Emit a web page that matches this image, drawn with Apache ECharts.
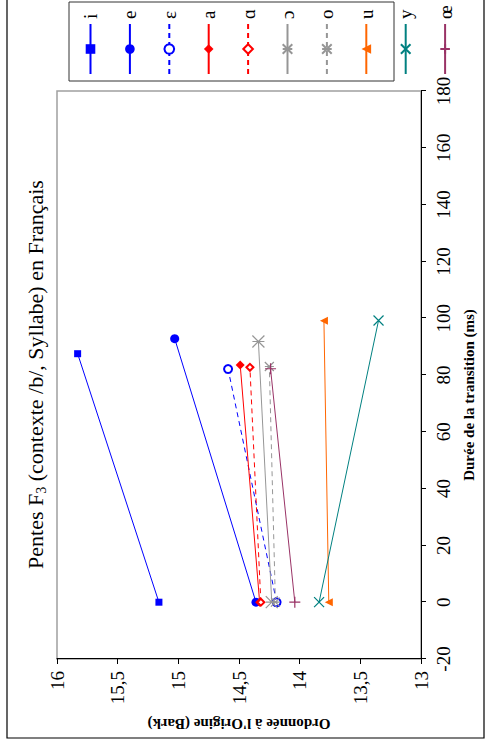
<!DOCTYPE html>
<html><head><meta charset="utf-8">
<script src="https://cdn.jsdelivr.net/npm/echarts@6/dist/echarts.min.js"></script>
<style>
html,body{margin:0;padding:0;width:486px;height:749px;overflow:hidden;background:#fff;}
#chart{position:absolute;left:0;top:0;width:749px;height:486px;transform-origin:0 0;transform:translateY(749px) rotate(-90deg);}
</style></head><body><div id="chart"></div>
<script>
// ---- data ----
const vowels = ['i', 'e', 'ɛ', 'a', 'ɑ', 'ɔ', 'o', 'u', 'y', 'œ'];
const dureeDebut = [0, 0, 0, 0, 0, 0, 0, 0, 0, 0];
const dureeFin = [87.5, 92.8, 82.1, 83.5, 82.7, 91.8, 83.0, 99.1, 99.2, 82.2];
const ordonneeDebut = [15.16, 14.36, 14.19, 14.33, 14.32, 14.23, 14.20, 13.76, 13.84, 14.04];
const ordonneeFin = [15.83, 15.03, 14.59, 14.49, 14.41, 14.34, 14.25, 13.80, 13.35, 14.24];
const dureeTicks = [-20, 0, 20, 40, 60, 80, 100, 120, 140, 160, 180];
const ordonneeTicks = [13, 13.5, 14, 14.5, 15, 15.5, 16];

// ---- styles ----
const FONT = "'Liberation Serif', 'Times New Roman', serif";
const STAR = 'path://M0,0 L10,10 M10,0 L0,10 M5,0 L5,10';
const CROSS = 'path://M0,0 L10,10 M10,0 L0,10';
const PLUS = 'path://M5,0 L5,10 M0,5 L10,5';
const styles = [
  {color: '#0000ff', symbol: 'rect', size: 7, dash: false, stroke: false},
  {color: '#0000ff', symbol: 'circle', size: 9, dash: false, stroke: false},
  {color: '#0000ff', symbol: 'emptyCircle', size: 8, dash: true, stroke: true},
  {color: '#ff0000', symbol: 'diamond', size: 9, dash: false, stroke: false},
  {color: '#ff0000', symbol: 'emptyDiamond', size: 7, dash: true, stroke: true},
  {color: '#969696', symbol: STAR, size: 12, dash: false, stroke: true},
  {color: '#969696', symbol: STAR, size: 9, dash: true, stroke: true},
  {color: '#ff6600', symbol: 'triangle', size: 8, dash: false, stroke: false},
  {color: '#008080', symbol: CROSS, size: 10, dash: false, stroke: true},
  {color: '#993366', symbol: PLUS, size: 11, dash: false, stroke: true}
];

const chart = echarts.init(document.getElementById('chart'), null, {renderer: 'svg', width: 749, height: 486});

const series = vowels.map((v, k) => {
  const st = styles[k];
  return {
    name: v,
    type: 'line',
    data: [[dureeDebut[k], ordonneeDebut[k]], [dureeFin[k], ordonneeFin[k]]],
    symbol: st.symbol,
    symbolSize: st.size,
    showAllSymbol: true,
    lineStyle: {color: st.color, width: 1, type: st.dash ? [5, 4] : 'solid'},
    itemStyle: {color: st.color, borderColor: st.color, borderWidth: st.stroke ? 1.2 : 0},
    emphasis: {disabled: true},
    z: 3
  };
});

chart.setOption({
  animation: false,
  backgroundColor: '#fff',
  title: {
    text: '{a|Pentes F}{s|3}{a| (contexte /b/, Syllabe) en Français}',
    left: 'center',
    top: 22,
    padding: 0,
    textStyle: {
      fontWeight: 'normal',
      rich: {
        a: {fontFamily: FONT, fontSize: 22, fontWeight: 'normal', color: '#000', lineHeight: 26},
        s: {fontFamily: FONT, fontSize: 14, fontWeight: 'normal', color: '#000', lineHeight: 16, verticalAlign: 'bottom'}
      }
    }
  },
  legend: {
    orient: 'vertical',
    left: 674,
    top: 81,
    padding: 0,
    itemWidth: 50,
    itemHeight: 12,
    itemGap: 20.4,
    selectedMode: false,
    textStyle: {fontFamily: FONT, fontSize: 19, color: '#000', lineHeight: 12},
    data: vowels
  },
  grid: {
    left: 90, right: 91, top: 57, bottom: 65,
    show: true, borderColor: '#a0a0a0', borderWidth: 1.5,
    containLabel: false, outerBoundsMode: 'none'
  },
  xAxis: {
    type: 'value',
    min: dureeTicks[0], max: dureeTicks[dureeTicks.length - 1], interval: 20,
    name: 'Durée de la transition (ms)',
    nameLocation: 'middle', nameGap: 40,
    nameTextStyle: {fontFamily: FONT, fontWeight: 'bold', fontSize: 15, color: '#000', padding: [0, 40, 0, 0]},
    axisLine: {show: true, onZero: false, lineStyle: {color: '#000', width: 1}},
    axisTick: {show: true, inside: false, length: 5, lineStyle: {color: '#000', width: 1}},
    axisLabel: {fontFamily: FONT, fontSize: 19, color: '#000', margin: 13, showMinLabel: true, showMaxLabel: true},
    splitLine: {show: false}
  },
  yAxis: {
    type: 'value',
    min: ordonneeTicks[0], max: ordonneeTicks[ordonneeTicks.length - 1], interval: 0.5,
    name: "Ordonnée à l'Origine (Bark)",
    nameLocation: 'middle', nameGap: 57, nameRotate: 90,
    nameTextStyle: {fontFamily: FONT, fontWeight: 'bold', fontSize: 15, color: '#000'},
    axisLine: {show: true, onZero: false, lineStyle: {color: '#000', width: 1}},
    axisTick: {show: true, inside: false, length: 5, lineStyle: {color: '#000', width: 1}},
    axisLabel: {fontFamily: FONT, fontSize: 19, color: '#000', margin: 12,
      formatter: v => String(v).replace('.', ','), showMinLabel: true, showMaxLabel: true},
    splitLine: {show: false}
  },
  graphic: [
    {type: 'rect', silent: true, z: -10, shape: {x: 11, y: 7, width: 760, height: 477},
      style: {fill: 'none', stroke: '#000', lineWidth: 1.2}},
    {type: 'rect', silent: true, shape: {x: 668, y: 69, width: 79, height: 325},
      style: {fill: 'none', stroke: '#333', lineWidth: 1}}
  ],
  series: series
});
</script></body></html>
